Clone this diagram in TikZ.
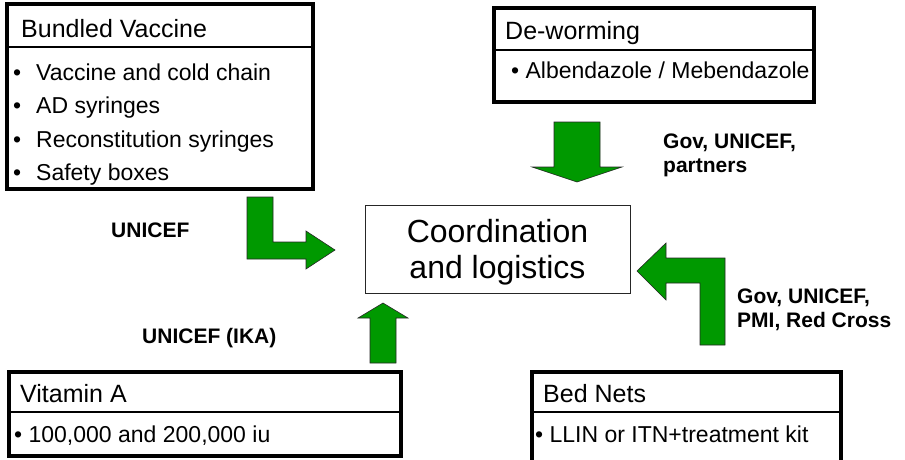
\documentclass[tikz,border=0pt]{standalone}
\usepackage{fontspec}
\setmainfont{Liberation Sans}
\usetikzlibrary{calc}

\definecolor{arrowgreen}{RGB}{0,153,0}

\begin{document}
\begin{tikzpicture}[x=1pt,y=-1pt,
  boxframe/.style={line width=3.2pt},
  headline/.style={line width=1.6pt},
  title/.style={anchor=base west, inner sep=0pt, font=\fontsize{25}{30}\selectfont},
  item/.style={anchor=base west, inner sep=0pt, font=\fontsize{23}{28}\selectfont},
  agent/.style={anchor=base west, inner sep=0pt, font=\fontsize{21}{25}\selectfont\bfseries},
  blockarrow/.style={fill=arrowgreen, draw=black!85, line width=0.6pt, line join=miter}]
  \useasboundingbox (0,0) rectangle (905,459);

  % supply boxes
  \draw [boxframe] (7,4) rectangle (313,189);
  \draw [headline] (7,47) -- (313,47);
  \draw [boxframe] (494,8) rectangle (814,102);
  \draw [headline] (494,50) -- (814,50);
  \draw [boxframe] (9,372) rectangle (401,456);
  \draw [headline] (9,412) -- (401,412);
  \draw [boxframe] (532,372) rectangle (841,470);
  \draw [headline] (532,412) -- (841,412);

  \node [title] (vaccine) at (21,37) {Bundled Vaccine};
  \node [item] (vaccineA) at (13,80) {\makebox[23pt][l]{\textbullet}Vaccine and cold chain};
  \node [item] (vaccineB) at (13,113.5) {\makebox[23pt][l]{\textbullet}AD syringes};
  \node [item] (vaccineC) at (13,147) {\makebox[23pt][l]{\textbullet}Reconstitution syringes};
  \node [item] (vaccineD) at (13,180) {\makebox[23pt][l]{\textbullet}Safety boxes};

  \node [title] (deworm) at (505,39) {De-worming};
  \node [item] (dewormA) at (511,78) {\textbullet\ Albendazole / Mebendazole};

  \node [title] (vitamin) at (20,402) {Vitamin A};
  \node [item] (vitaminA) at (14,442) {\textbullet\ 100,000 and 200,000 iu};

  \node [title] (bednets) at (543,402) {Bed Nets};
  \node [item] (bednetsA) at (535,442) {\textbullet\ LLIN or ITN+treatment kit};

  % centre
  \node [draw=black!85, line width=0.8pt, minimum width=265pt, minimum height=88pt,
         align=center, font=\fontsize{32}{36}\selectfont] (coord) at (497.5,249)
         {\rule{0pt}{29pt}Coordination\\and logistics};

  % green arrows
  \draw [blockarrow] (247,197) -- (273,197) -- (273,242) -- (306,242) -- (306,231)
    -- (335,250) -- (306,269) -- (306,259) -- (247,259) -- cycle;
  \draw [blockarrow] (554,122) -- (600,122) -- (600,167) -- (622,167)
    -- (577,182) -- (532,167) -- (554,167) -- cycle;
  \draw [blockarrow] (370,363) -- (370,318) -- (358,318) -- (383,303)
    -- (408,318) -- (396,318) -- (396,363) -- cycle;
  \draw [blockarrow] (725,345) -- (700,345) -- (700,283) -- (666,283) -- (666,300)
    -- (637,271) -- (666,243) -- (666,258) -- (725,258) -- cycle;

  % who delivers
  \node [agent] (unicef) at (111,237) {UNICEF};
  \node [agent] (govA) at (663,148) {Gov, UNICEF,};
  \node [agent] (govB) at (663,172) {partners};
  \node [agent] (govpmiA) at (737,303) {Gov, UNICEF,};
  \node [agent] (govpmiB) at (737,327) {PMI, Red Cross};
  \node [agent] (unicefika) at (142,343) {UNICEF (IKA)};
\end{tikzpicture}
\end{document}
